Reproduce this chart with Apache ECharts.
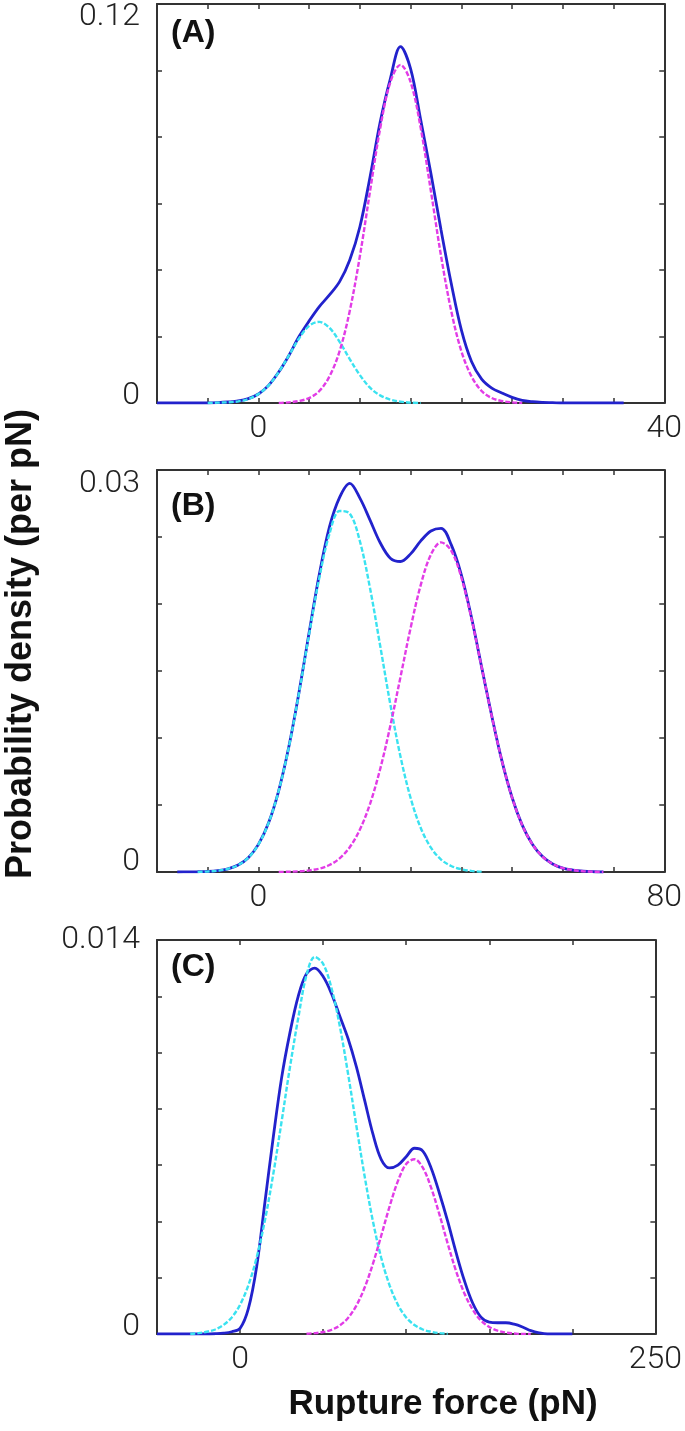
<!DOCTYPE html>
<html><head><meta charset="utf-8">
<script src="https://cdn.jsdelivr.net/npm/echarts@6/dist/echarts.min.js"></script>
<style>html,body{margin:0;padding:0;background:#fff}#c{width:685px;height:1431px}</style>
</head><body><div id="c"></div>
<script>
// ---------- Panel A ----------
const xA = [-10,-9,-8,-7,-6,-5,-4,-3,-2,-1,0,1,2,3,4,5,6,7,8,9,10,11,12,13,14,15,16,17,18,19,20,21,22,23,24,25,26,27,28,29,30,31,32,33,34,35,36];
const blueA = [0,0,0,0,0,0,0.0001,0.0003,0.0006,0.0013,0.0027,0.0053,0.0093,0.0143,0.0200,0.0247,0.0290,0.0325,0.0365,0.0430,0.0530,0.0680,0.0845,0.0975,0.1072,0.1005,0.0850,0.0690,0.0520,0.0360,0.0220,0.0125,0.0072,0.0045,0.0030,0.0017,0.0008,0.0004,0.0002,0.0001,0,0,0,0,0,0,0];
const cyanA = [null,null,null,null,null,0,0.0001,0.0002,0.0005,0.0012,0.0027,0.0053,0.0093,0.0143,0.0194,0.0232,0.0244,0.0226,0.0184,0.0132,0.0084,0.0046,0.0023,0.0010,0.0004,0.0001,0,null,null,null,null,null,null,null,null,null,null,null,null,null,null,null,null,null,null,null,null];
const magentaA = [null,null,null,null,null,null,null,null,null,null,null,null,0,0.0002,0.0006,0.0015,0.0036,0.0080,0.0156,0.0277,0.0442,0.0637,0.0826,0.0965,0.1017,0.0965,0.0826,0.0637,0.0442,0.0277,0.0156,0.0080,0.0036,0.0015,0.0006,0.0002,0,null,null,null,null,null,null,null,null,null,null];
const xTickLabelsA = [0, 40];
const yTickLabelsA = ['0', '0.12'];

// ---------- Panel B ----------
const xB = [-20,-18,-16,-14,-12,-10,-8,-6,-4,-2,0,2,4,6,8,10,12,14,16,18,20,22,24,26,28,30,32,34,36,38,40,42,44,46,48,50,52,54,56,58,60,62,64,66,68,70,72,74,76,78,80];
const blueB = [null,null,0,0.00001,0.00002,0.00004,0.0001,0.00024,0.00052,0.00107,0.00206,0.00367,0.00608,0.00936,0.01341,0.01789,0.02221,0.02575,0.02796,0.0290,0.0279,0.02626,0.02457,0.02342,0.02317,0.02374,0.02471,0.02545,0.02565,0.02443,0.02218,0.01899,0.01529,0.01164,0.00829,0.00556,0.0035,0.00207,0.00115,0.0006,0.00029,0.00014,0.00006,0.00002,0,null,null,null,null,null,null];
const cyanB = [null,null,null,null,0.00001,0.00004,0.0001,0.00024,0.00052,0.00107,0.00206,0.00367,0.00607,0.00934,0.01336,0.01777,0.02196,0.02523,0.02694,0.02675,0.02468,0.02117,0.01688,0.01251,0.00862,0.00552,0.00328,0.00182,0.00093,0.00045,0.0002,0.00008,0.00003,null,null,null,null,null,null,null,null,null,null,null,null,null,null,null,null,null,null];
const magentaB = [null,null,null,null,null,null,null,null,null,null,null,null,0,0.00002,0.00005,0.00012,0.00025,0.00052,0.00102,0.00185,0.00317,0.00509,0.00769,0.01091,0.01455,0.01822,0.02143,0.02369,0.0246,0.02398,0.02198,0.01891,0.01529,0.01162,0.00829,0.00556,0.0035,0.00207,0.00115,0.0006,0.00029,0.00014,0.00006,0.00002,0,null,null,null,null,null,null];
const xTickLabelsB = [0, 80];
const yTickLabelsB = ['0', '0.03'];

// ---------- Panel C ----------
const xC = [-50,-45,-40,-35,-30,-25,-20,-15,-10,-5,0,5,10,15,20,25,30,35,40,45,50,55,60,65,70,75,80,85,90,95,100,105,110,115,120,125,130,135,140,145,150,155,160,165,170,175,180,185,190,195,200,205,210,215,220,225,230,235,240,245,250];
const blueC = [0,0,0,0,0,0,0,0.00001,0.00003,0.00008,0.0002,0.0009,0.0024,0.0047,0.0070,0.0091,0.0107,0.0120,0.0128,0.0130,0.0127,0.0121,0.0113,0.0105,0.0095,0.0083,0.0071,0.0062,0.0059,0.0060,0.0063,0.0066,0.0065,0.0059,0.0050,0.0040,0.0029,0.0019,0.0011,0.0006,0.00042,0.0004,0.0004,0.00035,0.00025,0.00012,0.00004,0,0,0,0,null,null,null,null,null,null,null,null,null,null];
const cyanC = [null,null,null,null,0.00001,0.00003,0.00008,0.00016,0.00032,0.00059,0.00104,0.00173,0.00272,0.00405,0.00569,0.00755,0.00947,0.01122,0.01275,0.0134,0.01315,0.0123,0.01095,0.00925,0.00740,0.00560,0.00400,0.00270,0.00173,0.00104,0.00059,0.00032,0.00016,0.00008,0.00003,0.00001,null,null,null,null,null,null,null,null,null,null,null,null,null,null,null,null,null,null,null,null,null,null,null,null,null];
const magentaC = [null,null,null,null,null,null,null,null,null,null,null,null,null,null,null,null,null,null,0.00001,0.00003,0.00007,0.00015,0.0003,0.00057,0.00101,0.00165,0.0025,0.0035,0.00453,0.00543,0.00604,0.00621,0.00591,0.0052,0.00425,0.00321,0.00224,0.00145,0.00087,0.00048,0.00025,0.00012,0.00005,0.00002,0,0,null,null,null,null,null,null,null,null,null,null,null,null,null,null,null];
const xTickLabelsC = [0, 250];
const yTickLabelsC = ['0', '0.014'];

const yTitle = 'Probability density (per pN)';
const xTitle = 'Rupture force (pN)';
const panelTags = ['(A)', '(B)', '(C)'];

// ---------- layout / style ----------
const panels = [
  {x:xA, s:[blueA,cyanA,magentaA], xMin:-10, xMax:40, xStep:5, xl:xTickLabelsA, yMax:0.12, yStep:0.02, yl:yTickLabelsA, top:4, height:399, padT:26, padB:14, tagY:33},
  {x:xB, s:[blueB,cyanB,magentaB], xMin:-20, xMax:80, xStep:10, xl:xTickLabelsB, yMax:0.03, yStep:0.005, yl:yTickLabelsB, top:470, height:402, padT:28, padB:20, tagY:506},
  {x:xC, s:[blueC,cyanC,magentaC], xMin:-50, xMax:250, xStep:50, xl:xTickLabelsC, yMax:0.014, yStep:0.002, yl:yTickLabelsC, top:940, height:394, padT:0, padB:14, tagY:967}
];
const FRAME = '#333';
const tickFont = {fontFamily:'Roboto', fontWeight:300, fontSize:32, color:'#222'};
const lineColors = ['#2222cc', '#3ae2f0', '#e23ce6'];

const grid = [], xAxis = [], yAxis = [], series = [], graphic = [];
const near = (a,b) => Math.abs(a-b) < 1e-9;
panels.forEach((p, i) => {
  grid.push({left:157, width:509, top:p.top, height:p.height, containLabel:false});
  const baseAxis = {
    type:'value', gridIndex:i, splitLine:{show:false},
    axisLine:{show:true, onZero:false, lineStyle:{color:FRAME, width:2}},
    axisTick:{show:true, inside:true, length:5, lineStyle:{color:FRAME, width:1.5}}
  };
  xAxis.push(Object.assign({}, baseAxis, {position:'bottom', min:p.xMin, max:p.xMax, interval:p.xStep,
    axisLabel:Object.assign({show:true, margin:10, showMinLabel:true, showMaxLabel:true,
      formatter: v => p.xl.some(t => near(t, v)) ? String(v) : ''}, tickFont)}));
  xAxis.push(Object.assign({}, baseAxis, {position:'top', min:p.xMin, max:p.xMax, interval:p.xStep, axisLabel:{show:false}}));
  yAxis.push(Object.assign({}, baseAxis, {position:'left', min:0, max:p.yMax, interval:p.yStep,
    axisLabel:Object.assign({show:true, margin:17, showMinLabel:true, showMaxLabel:true,
      formatter: v => near(v, p.yMax) ? '{t|' + p.yl[1] + '}' : (near(v, 0) ? '{b|' + p.yl[0] + '}' : ''),
      rich:{ t:Object.assign({padding:[p.padT,0,0,0]}, tickFont), b:Object.assign({padding:[0,0,p.padB,0]}, tickFont) }
    }, tickFont)}));
  yAxis.push(Object.assign({}, baseAxis, {position:'right', min:0, max:p.yMax, interval:p.yStep, axisLabel:{show:false}}));
  p.s.forEach((vals, k) => {
    series.push({
      type:'line', xAxisIndex:2*i, yAxisIndex:2*i, showSymbol:false, smooth:0.35,
      connectNulls:false, z: k === 0 ? 2 : 3,
      data: p.x.map((xv, j) => [xv, vals[j]]),
      lineStyle: k === 0 ? {color:lineColors[0], width:2.8} : {color:lineColors[k], width:2.4, type:[5,2]},
      itemStyle:{color:lineColors[k]}
    });
  });
  graphic.push({type:'text', x:171, y:p.tagY, style:{text:panelTags[i], font:'bold 32px "Liberation Sans", Arial, sans-serif', fill:'#111', align:'left', verticalAlign:'middle', textAlign:'left', textVerticalAlign:'middle'}});
});
graphic.push({type:'text', x:21, y:644, rotation:Math.PI/2, style:{text:yTitle, font:'bold 36px "Liberation Sans", Arial, sans-serif', fill:'#111', align:'center', verticalAlign:'middle', textAlign:'center', textVerticalAlign:'middle'}});
graphic.push({type:'text', x:443, y:1404, style:{text:xTitle, font:'bold 35px "Liberation Sans", Arial, sans-serif', fill:'#111', align:'center', verticalAlign:'middle', textAlign:'center', textVerticalAlign:'middle'}});

const chart = echarts.init(document.getElementById('c'), null, {renderer:'canvas'});
chart.setOption({animation:false, backgroundColor:'#fff', grid, xAxis, yAxis, series, graphic});
</script>
</body></html>
